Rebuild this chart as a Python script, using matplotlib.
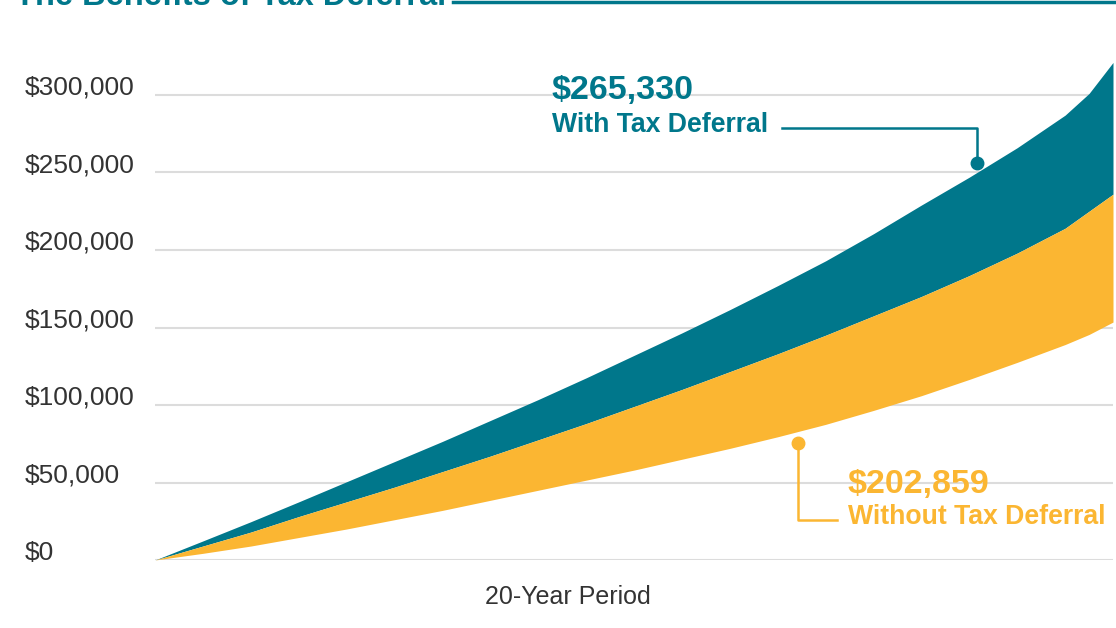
import matplotlib.pyplot as plt
from matplotlib.lines import Line2D

plt.rcParams['font.family'] = ['Liberation Sans', 'DejaVu Sans']

# data (boundaries of the two bands over the 20-year period)
years = [0, 1, 2, 3, 4, 5, 6, 7, 8, 9, 10, 11, 12, 13, 14, 15, 16, 17, 18, 19, 19.5, 20]
band_top = [0, 12300, 24700, 37500, 50500, 63500, 76500, 90000, 103500, 117500, 132000,
            146500, 161500, 177000, 193000, 210500, 229000, 247000, 266000, 287000, 301000, 321000]
band_mid = [0, 9000, 18000, 28000, 37500, 47000, 57000, 67000, 77500, 88000, 99000,
            110000, 121500, 133000, 145000, 157500, 170000, 183500, 198000, 214000, 225000, 236000]
band_low = [0, 4300, 9000, 14500, 20000, 26000, 32000, 38500, 45000, 51500, 58000,
            65000, 72000, 79500, 87500, 96500, 106000, 116500, 127500, 139000, 145500, 153500]

y_ticks = [0, 50000, 100000, 150000, 200000, 250000, 300000]
y_labels = ['$0', '$50,000', '$100,000', '$150,000', '$200,000', '$250,000', '$300,000']

with_value = '$265,330'
without_value = '$202,859'

teal = '#00778b'
yellow = '#fbb632'

W, H = 1116, 628


def px(x, y):
    # pixel position (from top-left) -> figure fraction
    return x / W, 1 - y / H


fig = plt.figure(figsize=(W / 100, H / 100), dpi=100)
ax = fig.add_axes([155 / W, 68 / H, 958 / W, 511.5 / H])
ax.set_xlim(0, 20)
ax.set_ylim(0, 330000)

ax.fill_between(years, band_mid, band_top, color=teal, lw=0, zorder=2)
ax.fill_between(years, band_low, band_mid, color=yellow, lw=0, zorder=2)

ax.set_yticks(y_ticks)
ax.set_yticklabels(y_labels)
ax.set_xticks([])
ax.grid(axis='y', color='#dcdcdc', lw=1.5)
ax.set_axisbelow(True)
for s in ax.spines.values():
    s.set_visible(False)
ax.tick_params(axis='y', length=0, pad=93.6, labelsize=19, labelcolor='#333333')
for lab in ax.get_yticklabels():
    lab.set_horizontalalignment('left')
    lab.set_verticalalignment('baseline')

# x label
fig.text(*px(568, 597), '20-Year Period', ha='center', va='center', fontsize=18, color='#333333')

# title (cut off at the top of the picture)
fig.text(*px(15, 5), 'The Benefits of Tax Deferral', ha='left', va='baseline',
         fontsize=23.5, fontweight='bold', color=teal)
fig.add_artist(Line2D([453 / W, 1], [1 - 2 / H, 1 - 2 / H], color=teal, lw=2.5,
                      transform=fig.transFigure))

# with tax deferral callout
fig.text(*px(552, 99), with_value, ha='left', va='baseline', fontsize=24.5,
         fontweight='bold', color=teal)
fig.text(*px(552, 132), 'With Tax Deferral', ha='left', va='baseline', fontsize=19.2,
         fontweight='bold', color=teal)
xs, ys = zip(px(782, 128), px(977, 128), px(977, 163))
fig.add_artist(Line2D(xs, ys, color=teal, lw=1.8, transform=fig.transFigure))
fig.add_artist(Line2D([xs[-1]], [ys[-1]], marker='o', ms=9, color=teal,
                      transform=fig.transFigure))

# without tax deferral callout
fig.text(*px(848, 493), without_value, ha='left', va='baseline', fontsize=24.5,
         fontweight='bold', color=yellow)
fig.text(*px(848, 524), 'Without Tax Deferral', ha='left', va='baseline', fontsize=19.2,
         fontweight='bold', color=yellow)
xs, ys = zip(px(798, 443), px(798, 520), px(837, 520))
fig.add_artist(Line2D(xs, ys, color=yellow, lw=1.8, transform=fig.transFigure))
fig.add_artist(Line2D([xs[0]], [ys[0]], marker='o', ms=9, color=yellow,
                      transform=fig.transFigure))

fig.savefig('out.png', dpi=100, facecolor='white')
